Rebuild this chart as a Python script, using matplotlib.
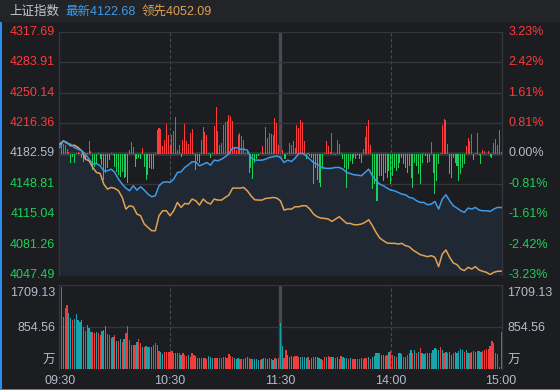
import matplotlib.pyplot as plt
from matplotlib.patches import Rectangle

plt.rcParams['font.family'] = ['Liberation Sans', 'Noto Sans CJK SC', 'DejaVu Sans']

# ---- data ----
pre_close = 4182.59
price_ticks = [4047.49, 4081.26, 4115.04, 4148.81, 4182.59, 4216.36, 4250.14, 4283.91, 4317.69]
pct_labels = ['-3.23%', '-2.42%', '-1.61%', '-0.81%', '0.00%', '0.81%', '1.61%', '2.42%', '3.23%']
vol_max = 1709.13
vol_mid = 854.56
time_labels = ['09:30', '10:30', '11:30', '14:00', '15:00']
time_pos = [0, 60, 120, 180, 240]

# index lines, one point every 2 minutes
line_minutes = list(range(0, 241, 2))
latest = [4189.23, 4196.62, 4193.66, 4192.92, 4189.23, 4187.39, 4185.54, 4181.85, 4176.32, 4170.78,
          4171.52, 4168.93, 4163.40, 4163.40, 4165.24, 4161.55, 4154.17, 4148.63, 4144.20, 4141.25,
          4146.79, 4141.99, 4145.68, 4141.99, 4137.56, 4134.61, 4135.71, 4146.79, 4150.48, 4151.22,
          4150.48, 4154.17, 4161.55, 4162.29, 4167.09, 4170.04, 4173.36, 4173.36, 4168.93, 4170.78,
          4172.62,
          4169.67, 4175.21, 4174.47, 4176.32, 4178.90, 4182.59, 4188.50, 4189.23, 4187.39, 4187.39,
          4186.28, 4178.16, 4175.21, 4175.21, 4175.21, 4176.32, 4178.16, 4178.90, 4180.01, 4178.16,
          4172.62, 4175.21, 4173.73, 4177.42, 4182.59, 4182.96, 4180.01, 4176.32, 4172.62, 4170.78,
          4167.83, 4166.35, 4165.98, 4166.35, 4167.09, 4167.09, 4165.24, 4161.55, 4160.44, 4158.97,
          4158.60, 4157.86, 4161.55, 4165.24, 4157.86, 4152.32, 4148.63, 4146.79, 4144.20, 4141.99,
          4141.25, 4139.41, 4137.56, 4136.82, 4133.87, 4133.13, 4130.18, 4128.33, 4128.33, 4125.75,
          4126.49, 4129.44, 4120.95, 4132.02, 4136.82, 4130.18, 4124.64, 4122.06, 4119.10, 4117.26,
          4122.06, 4120.95, 4122.80, 4119.84, 4119.10, 4119.10, 4118.37, 4120.95, 4122.80, 4122.68]
leading = [4192.92, 4196.62, 4194.77, 4191.08, 4191.82, 4189.23, 4185.54, 4176.32, 4174.47, 4167.09,
           4161.55, 4160.44, 4148.63, 4143.10, 4144.94, 4143.83, 4141.25, 4133.87, 4120.95, 4124.64,
           4123.53, 4115.41, 4113.57, 4104.34, 4100.65, 4096.96, 4096.96, 4113.57, 4119.10, 4119.10,
           4113.57, 4119.10, 4128.33, 4122.80, 4127.22, 4126.49, 4132.02, 4130.18, 4125.38, 4132.02,
           4128.33,
           4126.49, 4132.02, 4130.92, 4130.92, 4133.87, 4136.45, 4144.20, 4144.20, 4144.20, 4144.94,
           4141.25, 4135.71, 4131.29, 4130.92, 4130.92, 4132.76, 4133.13, 4133.87, 4133.13, 4130.18,
           4119.84, 4120.95, 4120.95, 4123.53, 4123.53, 4124.64, 4124.64, 4120.95, 4115.41, 4112.46,
           4110.98, 4110.62, 4109.88, 4107.29, 4109.88, 4112.46, 4108.77, 4105.08, 4105.08, 4103.60,
           4103.60, 4104.34, 4106.19, 4109.14, 4102.50, 4095.11, 4088.84, 4085.89, 4083.30, 4082.93,
           4082.93, 4082.19, 4082.93, 4080.35, 4079.24, 4075.55, 4072.97, 4070.38, 4069.28, 4068.17,
           4069.28, 4067.43, 4057.10, 4071.12, 4075.55, 4067.43, 4061.16, 4059.31, 4054.51, 4052.67,
           4056.36, 4054.51, 4057.10, 4053.40, 4051.93, 4050.82, 4048.24, 4050.82, 4051.93, 4052.09]

# buy/sell power per minute (arbitrary units)
power = [20, 35, 30, 25, 15, 5, -28, -10, -30, 3,
         5, 3, -15, -25, -18, 2, 37, 9, -50, -40,
         -30, 2, -18, -35, -80, -60, -45, -20, 2, -5,
         -40, -55, -65, -70, -55, -75, -70, -90, 10, 35,
         20, -40, -18, -13, -18, 18, -40, -80, -65, -45,
         -48, -48, 3, 72, 78, 75, 22, 42, 90, 55,
         25, 55, 67, 110, 12, 25, -10, 40, 88, 37,
         28, 62, 75, 3, -50, -22, -30, 40, 80, 65,
         55, 3, -15, 3, 82, 139, 67, 27, 32, 87,
         95, 97, 115, 112, 97, 17, 12, 57, 62, 52,
         42, 2, 8, -58, -43, -78, -28, -18, -8, 2,
         22, 3, 79, 47, 62, 59, 57, 107, 92, 27,
         2, 12, -18, -18, 3, 32, 27, 37, 17, 87,
         77, 100, 95, 37, -18, 2, -8, -13, -93, -43,
         -80, -88, -101, -48, 2, 39, 22, 5, 62, 2,
         -5, 42, 29, 2, -18, -43, -105, -48, -23, -33,
         -13, -18, -5, -18, -28, 15, 49, 82, 102, 25,
         -108, -93, -143, -143, -68, -68, -83, -58, -75, -53,
         -93, -68, -43, -53, -43, -28, -13, -33, -43, -58,
         -38, -73, -105, -28, -38, -61, -91, -28, 2, -8,
         -28, -25, 35, -58, -123, -83, -33, 2, 87, 105,
         102, 29, -61, -75, -13, -28, -38, -83, -61, -43,
         -31, 22, 47, 37, 59, -20, 3, 62, -5, -33,
         12, 7, -3, 7, -11, -13, 32, 44, 27, 72,
         5]

# volume per minute (万) and tick direction (u up / d down)
volume = [1709, 1675, 1064, 1234, 1302, 1132, 1031, 997, 1010, 1112,
          997, 963, 997, 848, 773, 895, 827, 759, 759, 725,
          759, 725, 692, 773, 793, 875, 712, 692, 624, 658,
          692, 576, 570, 603, 556, 603, 725, 875, 590, 488,
          488, 488, 556, 603, 522, 441, 454, 468, 454, 454,
          454, 488, 536, 488, 366, 353, 305, 353, 353, 353,
          353, 366, 332, 332, 319, 319, 285, 319, 285, 264,
          285, 251, 319, 285, 264, 217, 217, 231, 217, 231,
          197, 264, 237, 231, 217, 217, 217, 217, 217, 237,
          237, 217, 305, 264, 237, 217, 197, 217, 197, 197,
          197, 217, 237, 217, 197, 197, 197, 197, 183, 183,
          197, 217, 217, 197, 217, 197, 183, 217, 197, 217,
          929, 468, 217, 386, 285, 237, 264, 251, 264, 264,
          251, 237, 237, 237, 217, 237, 183, 217, 237, 237,
          237, 217, 197, 183, 237, 237, 264, 251, 237, 237,
          217, 251, 197, 264, 237, 217, 217, 197, 217, 197,
          197, 197, 197, 197, 217, 197, 217, 217, 237, 197,
          237, 264, 332, 332, 319, 285, 285, 264, 285, 353,
          366, 285, 264, 237, 319, 332, 305, 251, 237, 285,
          332, 386, 332, 386, 319, 353, 420, 319, 305, 332,
          332, 319, 319, 386, 420, 400, 386, 441, 386, 319,
          353, 332, 353, 285, 332, 353, 332, 373, 400, 386,
          353, 386, 332, 332, 353, 373, 353, 373, 366, 353,
          373, 386, 400, 400, 468, 576, 536, 319, 300, 47,
          759]
vol_dir = ("uuduuddudd" "dddduddduu" "duuddduudd" "udududuuuu" "duduududdu"
           "duuuudduuu" "uuuduuduuu" "duuudududu" "uddduuduuu" "uuuuuddduu"
           "ddduuddddu" "duuduududu"
           "dduududduu" "uddddudddd" "ddduuduudd" "uduudddudu" "uduuduuudu"
           "ddddudddud" "uududddudu" "ududududdu" "duuddddudu" "dudduddddd"
           "uddudududd" "uuuu" "uuuuuud")
auction_vol = 773

minutes = list(range(len(power)))

# ---- style ----
BG = '#1c1d21'
GRID = '#35363b'
VLINE = '#4a4b51'
RED = '#ff3a3a'
GREEN = '#1ccf5a'
GRAY_TXT = '#b4bcc8'
VOL_RED = '#f23c3c'
VOL_TEAL = '#18a4aa'
W, H = 560, 390

fig = plt.figure(figsize=(W / 100, H / 100), dpi=100)
fig.patch.set_facecolor(BG)

# title bar + blue frame edges
fig.add_artist(Rectangle((0, 1 - 22 / H), 1, 22 / H, transform=fig.transFigure,
                         facecolor='#232428', edgecolor='none'))
fig.add_artist(Rectangle((0, 0), 1.5 / W, 1 - 22 / H, transform=fig.transFigure,
                         facecolor='#2a8cf0', edgecolor='none'))
fig.add_artist(Rectangle((0, 0), 1, 1.5 / H, transform=fig.transFigure,
                         facecolor='#2a8cf0', edgecolor='none'))

fig.text(9 / W, 1 - 12 / H, '上证指数', color='#c4c8d0', fontsize=9, va='center')
fig.text(65 / W, 1 - 12 / H, '最新' + f'{latest[-1]:.2f}', color='#3d9be9', fontsize=9, va='center')
fig.text(142 / W, 1 - 12 / H, '领先' + f'{leading[-1]:.2f}', color='#e0a254', fontsize=9, va='center')

x0, x1 = 59.3, 501.7
ax = fig.add_axes([x0 / W, 1 - 275.3 / H, (x1 - x0) / W, (275.3 - 31.7) / H])
axv = fig.add_axes([x0 / W, 1 - 369 / H, (x1 - x0) / W, (369 - 285) / H])

for a in (ax, axv):
    a.set_facecolor('none')
    a.set_xlim(-0.2, 240.3)
    a.set_xticks([])
    a.set_yticks([])
    for s in ('top', 'bottom'):
        a.spines[s].set_visible(False)
    for s in ('left', 'right'):
        a.spines[s].set_color(GRID)
        a.spines[s].set_linewidth(1)
    for m in (60, 180):
        a.axvline(m, color=VLINE, lw=0.8, ls=(0, (3, 2)), zorder=0)
    a.axvline(120, color=VLINE, lw=2.4, zorder=0)

# ---- price panel ----
ax.set_ylim(price_ticks[0], price_ticks[-1])
for p in price_ticks:
    if p == pre_close:
        ax.axhline(p, color='#393a3f', lw=2.6, zorder=1)
    else:
        ax.axhline(p, color=GRID, lw=1, zorder=0)

ax.fill_between(line_minutes, latest, price_ticks[0], color='#202833', lw=0, zorder=0.5)

scale = 0.369
heights = [v * scale for v in power]
bar_colors = [RED if v > 0 else GREEN for v in power]
ax.bar(minutes, heights, bottom=pre_close, width=0.55, color=bar_colors, lw=0, zorder=2)

ax.plot(line_minutes, leading, color='#e0a254', lw=1.1, zorder=3)
ax.plot(line_minutes, latest, color='#3d9be9', lw=1.1, zorder=4)

ytr = ax.get_yaxis_transform()
for p, pl in zip(price_ticks, pct_labels):
    c = RED if p > pre_close else (GREEN if p < pre_close else GRAY_TXT)
    ax.text(-0.0095, p, f'{p:.2f}', color=c, fontsize=9, ha='right', va='center', transform=ytr)
    ax.text(1.0145, p, pl, color=c, fontsize=9, ha='left', va='center', transform=ytr)

# ---- volume panel ----
axv.set_ylim(0, vol_max)
axv.axhline(vol_max, color=GRID, lw=1, zorder=0)
axv.axhline(vol_mid, color=GRID, lw=1, zorder=0)
vcolors = [VOL_RED if d == 'u' else VOL_TEAL for d in vol_dir]
axv.bar(minutes, volume, width=0.68, color=vcolors, lw=0, zorder=2)
axv.bar([-0.35], [auction_vol], width=0.4, color='#f0f0f0', lw=0, zorder=2)

for xa, ha in ((-0.0095, 'right'), (1.0125, 'left')):
    axv.text(xa, 0.905, f'{vol_max:.2f}', color=GRAY_TXT, fontsize=9, ha=ha, va='center',
             transform=axv.transAxes)
    axv.text(xa, 0.488, f'{vol_mid:.2f}', color=GRAY_TXT, fontsize=9, ha=ha, va='center',
             transform=axv.transAxes)
    axv.text(xa, 0.095, '万', color=GRAY_TXT, fontsize=9, ha=ha, va='center',
             transform=axv.transAxes)

xtr = axv.get_xaxis_transform()
for m, t in zip(time_pos, time_labels):
    axv.text(m, -0.143, t, color=GRAY_TXT, fontsize=9, ha='center', va='center', transform=xtr)

fig.savefig('out.png', dpi=100, facecolor=BG)
